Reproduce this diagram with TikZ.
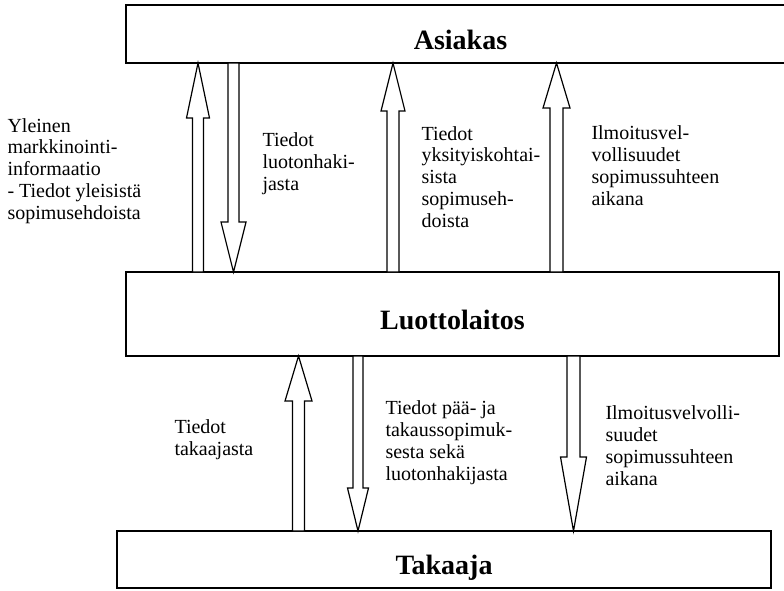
\documentclass[tikz,border=0pt]{standalone}
\usepackage{fontspec}
\setmainfont{Liberation Serif}
\tikzset{every picture/.style={line width=0.75pt}}

% block arrow pointing up: x, lower node, upper node, head length, shaft half width, head half width (all px)
\newcommand{\blockup}[6]{%
  \path (#1,0 |- #2.north) coordinate (arrtail) (#1,0 |- #3.south) coordinate (arrtip);
  \draw[blockarrow] ([xshift=-#5*0.75pt]arrtail) -- ([xshift=-#5*0.75pt,yshift=#4*0.75pt]arrtip) -- ([xshift=-#6*0.75pt,yshift=#4*0.75pt]arrtip) -- (arrtip) -- ([xshift=#6*0.75pt,yshift=#4*0.75pt]arrtip) -- ([xshift=#5*0.75pt,yshift=#4*0.75pt]arrtip) -- ([xshift=#5*0.75pt]arrtail) -- cycle;
}
% block arrow pointing down: x, upper node, lower node, head length, shaft half width, head half width (all px)
\newcommand{\blockdown}[6]{%
  \path (#1,0 |- #2.south) coordinate (arrtail) (#1,0 |- #3.north) coordinate (arrtip);
  \draw[blockarrow] ([xshift=-#5*0.75pt]arrtail) -- ([xshift=-#5*0.75pt,yshift=-#4*0.75pt]arrtip) -- ([xshift=-#6*0.75pt,yshift=-#4*0.75pt]arrtip) -- (arrtip) -- ([xshift=#6*0.75pt,yshift=-#4*0.75pt]arrtip) -- ([xshift=#5*0.75pt,yshift=-#4*0.75pt]arrtip) -- ([xshift=#5*0.75pt]arrtail) -- cycle;
}

\begin{document}
\begin{tikzpicture}[x=0.75pt,y=0.75pt,yscale=-1,xscale=1,
  party/.style={draw, line width=1.2pt, rectangle, inner sep=0pt, outer sep=0pt, font=\fontsize{21pt}{25pt}\selectfont\bfseries, text height=23pt, text depth=0pt},
  blockarrow/.style={draw, fill=white, line width=0.9pt, line join=miter},
  infotext/.style={anchor=base west, inner sep=0pt, align=left, font=\fontsize{15pt}{16.3pt}\selectfont}]
\useasboundingbox (0,0) rectangle (784,590);

%Shape: Rectangle
\node[party, minimum width=501.75pt, minimum height=43.5pt] (asiakas) at (460.5,34) {Asiakas};
%Shape: Rectangle
\node[party, minimum width=489.75pt, minimum height=63pt] (luotto) at (452.5,314) {Luottolaitos};
%Shape: Rectangle
\node[party, minimum width=490.5pt, minimum height=42.75pt] (takaaja) at (444,559.5) {Takaaja};

%Block arrows between Asiakas and Luottolaitos
\blockup{198}{luotto}{asiakas}{55}{5.5}{11.5}
\blockdown{233.5}{asiakas}{luotto}{50}{5.5}{12.5}
\blockup{393}{luotto}{asiakas}{48}{6}{12}
\blockup{556.5}{luotto}{asiakas}{45}{6.5}{13.5}
%Block arrows between Luottolaitos and Takaaja
\blockup{298.5}{takaaja}{luotto}{45}{6}{13.5}
\blockdown{358}{luotto}{takaaja}{43}{5}{10.5}
\blockdown{573.5}{luotto}{takaaja}{74}{6.5}{13}

% Text Node (placed at the baseline of the last line)
\node[infotext] (yleinen) at (7,219) {Yleinen\\markkinointi-\\informaatio\\- Tiedot yleisistä\\sopimusehdoista};
% Text Node
\node[infotext] (hakijatieto) at (262,190) {Tiedot\\luotonhaki-\\jasta};
% Text Node
\node[infotext] (ehdot) at (421,227) {Tiedot\\yksityiskohtai-\\sista\\sopimuseh-\\doista};
% Text Node
\node[infotext] (ilmoitusyla) at (591,205) {Ilmoitusvel-\\vollisuudet\\sopimussuhteen\\aikana};
% Text Node
\node[infotext] (takaajatieto) at (174,455) {Tiedot\\takaajasta};
% Text Node
\node[infotext] (sopimustieto) at (385,480) {Tiedot pää- ja\\takaussopimuk-\\sesta sekä\\luotonhakijasta};
% Text Node
\node[infotext] (ilmoitusala) at (605,485) {Ilmoitusvelvolli-\\suudet\\sopimussuhteen\\aikana};

\end{tikzpicture}
\end{document}
